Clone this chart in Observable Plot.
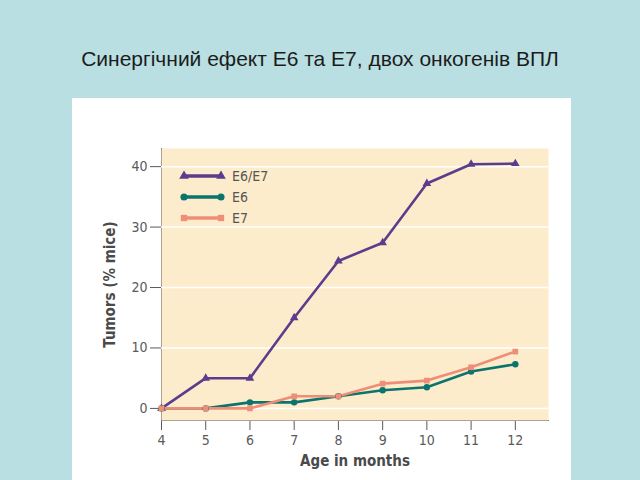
<!DOCTYPE html>
<html>
<head>
<meta charset="utf-8">
<script src="https://cdn.jsdelivr.net/npm/d3@7"></script>
<script src="https://cdn.jsdelivr.net/npm/@observablehq/plot@0.6"></script>
<style>
  html, body { margin: 0; padding: 0; }
  body { width: 640px; height: 480px; background: #b9dfe2; position: relative; overflow: hidden; font-family: "Liberation Sans", Arial, sans-serif; }
  #title { position: absolute; left: 0; width: 640px; top: 47px; text-align: center; font-size: 21px; color: #1c1c1c; }
  #panel { position: absolute; left: 72px; top: 98px; width: 499px; height: 382px; background: #ffffff; }
  #chart { position: absolute; left: 72px; top: 98px; }
  #legend { position: absolute; left: 175px; top: 165px; }
</style>
</head>
<body>
<div id="title">Синергічний ефект Е6 та Е7, двох онкогенів ВПЛ</div>
<div id="panel"></div>
<div id="chart"></div>
<div id="legend"></div>
<script>
const months = [4, 5, 6, 7, 8, 9, 10, 11, 12];
const seriesNames = ["E6/E7", "E6", "E7"];
const e6e7 = [0, 5, 5, 15, 24.4, 27.4, 37.2, 40.4, 40.5];
const e6 = [0, 0, 1, 1, 2, 3, 3.5, 6.1, 7.3];
const e7 = [0, 0, 0, 2, 2, 4.1, 4.6, 6.8, 9.4];
const yTicks = [0, 10, 20, 30, 40];
const colors = ["#5a3d8c", "#0b746d", "#ef8e78"];
const symbols = ["triangle", "circle", "square"];
const xLabel = "Age in months";
const yLabel = "Tumors (% mice)";

const values = [e6e7, e6, e7];
const data = [];
seriesNames.forEach((s, i) => months.forEach((m, j) => data.push({series: s, month: m, value: values[i][j]})));

const font = '"DejaVu Sans Condensed", "Liberation Sans Narrow", sans-serif';

const chart = Plot.plot({
  width: 499,
  height: 382,
  marginLeft: 89,
  marginRight: 23,
  marginTop: 50,
  marginBottom: 60,
  style: {fontFamily: font, fontSize: "14px", color: "#5a5a5a", background: "transparent"},
  x: {domain: [4, 12.75], ticks: months, tickSize: 10, tickPadding: 5, line: true, label: null},
  y: {domain: [-2, 43], ticks: yTicks, tickSize: 11, tickPadding: 3, line: true, label: null},
  color: {domain: seriesNames, range: colors},
  symbol: {domain: seriesNames, range: symbols},
  marks: [
    Plot.frame({fill: "#fdeccb", stroke: "none"}),
    Plot.ruleY(yTicks, {stroke: "#ffffff", strokeWidth: 1.5}),
    Plot.line(data, {x: "month", y: "value", z: "series", stroke: "series", strokeWidth: 2.6}),
    Plot.dot(data, {x: "month", y: "value", symbol: "series", fill: "series", r: 3.2}),
    Plot.text([xLabel], {frameAnchor: "bottom", dy: 45, fontWeight: "bold", fontSize: 15, fill: "#4a4a4a"}),
    Plot.text([yLabel], {frameAnchor: "left", dx: -51, rotate: -90, textAnchor: "middle", fontWeight: "bold", fontSize: 15, fill: "#4a4a4a"})
  ]
});
document.getElementById("chart").appendChild(chart);

// legend
const lg = d3.select("#legend").append("svg").attr("width", 120).attr("height", 66)
  .style("font-family", font).style("font-size", "14px");
const symGen = {triangle: d3.symbolTriangle, circle: d3.symbolCircle, square: d3.symbolSquare};
seriesNames.forEach((s, i) => {
  const y = 11 + i * 21;
  const g = lg.append("g");
  g.append("line").attr("x1", 9).attr("x2", 46).attr("y1", y).attr("y2", y)
    .attr("stroke", colors[i]).attr("stroke-width", 3.5);
  [9, 46].forEach(x => g.append("path").attr("d", d3.symbol(symGen[symbols[i]], 40)())
    .attr("transform", `translate(${x},${y})`).attr("fill", colors[i]));
  g.append("text").attr("x", 57).attr("y", y).attr("dy", "0.35em").attr("fill", "#555").text(s);
});
</script>
</body>
</html>
